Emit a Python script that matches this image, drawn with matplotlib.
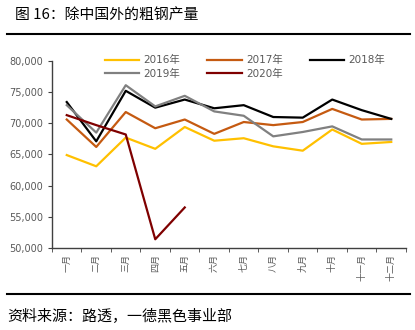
import matplotlib
matplotlib.use("Agg")
import matplotlib.pyplot as plt
import numpy as np

plt.rcParams['font.family'] = ['DejaVu Sans', 'Noto Sans CJK SC']

months = ["一月", "二月", "三月", "四月", "五月", "六月",
          "七月", "八月", "九月", "十月", "十一月", "十二月"]

y2016 = [64900, 63100, 67700, 65900, 69400, 67200, 67600, 66300, 65600, 69000, 66700, 67000]
y2017 = [70600, 66200, 71800, 69200, 70600, 68300, 70200, 69700, 70200, 72300, 70600, 70700]
y2018 = [73400, 67100, 75200, 72500, 73800, 72400, 72900, 71000, 70900, 73800, 72100, 70700]
y2019 = [72900, 68500, 76100, 72700, 74400, 71900, 71200, 67900, 68600, 69500, 67400, 67400]
y2020 = [71300, 69700, 68200, 51400, 56500]

series = [("2016年", y2016, "#FFC000"),
          ("2017年", y2017, "#C55A11"),
          ("2018年", y2018, "#000000"),
          ("2019年", y2019, "#808080"),
          ("2020年", y2020, "#7F0000")]

fig = plt.figure(figsize=(4.15, 3.3), dpi=100)
ax = fig.add_axes([0.1253, 0.2485, 0.853, 0.567])

x = np.arange(len(months))
lines = []
for name, vals, col in series:
    ln, = ax.plot(x[:len(vals)], vals, color=col, lw=1.6, label=name)
    lines.append(ln)

ax.set_xlim(-0.5, 11.5)
ax.set_ylim(50000, 80000)
ax.set_yticks(np.arange(50000, 80001, 5000))
ax.set_yticklabels([f"{v:,}" for v in range(50000, 80001, 5000)])
ax.set_xticks(x)
ax.set_xticklabels(months, rotation=90, family=['Noto Sans CJK SC'])
ax.set_xticks(np.arange(-0.5, 12, 1), minor=True)
ax.tick_params(axis='x', which='major', length=0, pad=4, labelsize=6.5, colors='#595959')
ax.tick_params(axis='x', which='minor', length=3, color='#404040')
ax.tick_params(axis='y', length=3, labelsize=7, labelcolor='#595959', color='#404040')

for s in ['top', 'right']:
    ax.spines[s].set_visible(False)
for s in ['left', 'bottom']:
    ax.spines[s].set_color('#404040')
    ax.spines[s].set_linewidth(1.0)

# legend is filled column-wise, so reorder to get 2016/2017/2018 on the first row
order = [0, 3, 1, 4, 2]
leg = ax.legend([lines[i] for i in order], [series[i][0] for i in order],
                ncol=3, loc='upper center', bbox_to_anchor=(0.545, 1.08),
                frameon=False, fontsize=7.5, handlelength=3.3,
                columnspacing=2.6, handletextpad=0.4, labelspacing=0.35)
for t in leg.get_texts():
    t.set_color('#595959')

fig.text(0.036, 0.955, "图 16：除中国外的粗钢产量", fontsize=10.7,
         family=['Noto Sans CJK SC'], va='center', ha='left')
fig.add_artist(plt.Line2D([0.017, 0.988], [0.897, 0.897], color='black', lw=1.5))
fig.add_artist(plt.Line2D([0.017, 0.988], [0.108, 0.108], color='black', lw=1.5))
fig.text(0.017, 0.042, "资料来源：路透，一德黑色事业部", fontsize=10.8,
         family=['Noto Sans CJK SC'], va='center', ha='left')

fig.savefig("out.png", dpi=100)
